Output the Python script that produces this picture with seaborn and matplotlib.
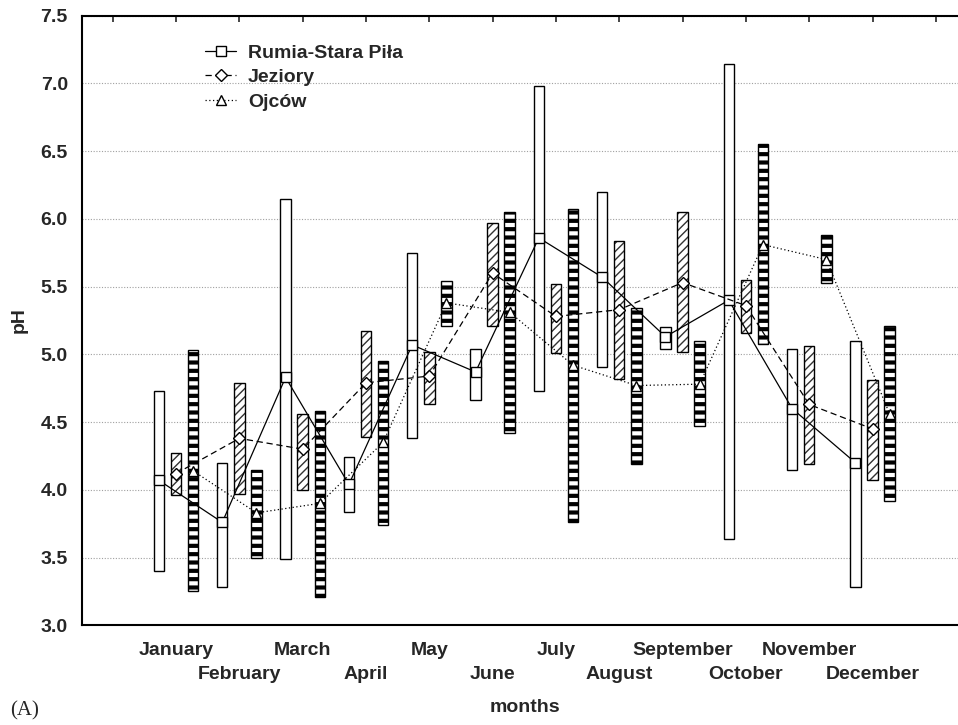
import matplotlib
matplotlib.use("Agg")
import matplotlib.pyplot as plt
import matplotlib as mpl
import numpy as np
import pandas as pd
import seaborn as sns

# ---------------- data ----------------
months = ["January", "February", "March", "April", "May", "June",
          "July", "August", "September", "October", "November", "December"]
series_names = ["Rumia-Stara Piła", "Jeziory", "Ojców"]

rumia_mean = [4.07, 3.76, 4.83, 4.04, 5.07, 4.87, 5.86, 5.57, 5.13, 5.40, 4.60, 4.20]
rumia_low = [3.40, 3.28, 3.49, 3.84, 4.38, 4.66, 4.73, 4.91, 5.04, 3.64, 4.15, 3.28]
rumia_high = [4.73, 4.20, 6.15, 4.24, 5.75, 5.04, 6.98, 6.20, 5.20, 7.14, 5.04, 5.10]

jez_mean = [4.12, 4.38, 4.30, 4.79, 4.84, 5.60, 5.28, 5.33, 5.53, 5.36, 4.63, 4.45]
jez_low = [3.96, 3.97, 4.00, 4.39, 4.63, 5.21, 5.01, 4.82, 5.02, 5.16, 4.19, 4.07]
jez_high = [4.27, 4.79, 4.56, 5.17, 5.02, 5.97, 5.52, 5.84, 6.05, 5.55, 5.06, 4.81]

ojc_mean = [4.14, 3.83, 3.90, 4.35, 5.38, 5.31, 4.92, 4.77, 4.78, 5.81, 5.70, 4.56]
ojc_low = [3.25, 3.50, 3.21, 3.74, 5.21, 4.42, 3.76, 4.19, 4.47, 5.08, 5.53, 3.92]
ojc_high = [5.03, 4.15, 4.58, 4.95, 5.54, 6.05, 6.07, 5.34, 5.10, 6.55, 5.88, 5.21]

y_ticks = [3.0, 3.5, 4.0, 4.5, 5.0, 5.5, 6.0, 6.5, 7.0, 7.5]

# ---------------- styling ----------------
sns.set_style("white")
plt.rcParams["font.family"] = ["Liberation Sans", "DejaVu Sans"]
plt.rcParams["font.weight"] = "bold"

offsets = {"Rumia-Stara Piła": -0.27, "Jeziory": 0.0, "Ojców": 0.27}
bar_w = 0.165

rows = []
for name, m, lo, hi in [("Rumia-Stara Piła", rumia_mean, rumia_low, rumia_high),
                        ("Jeziory", jez_mean, jez_low, jez_high),
                        ("Ojców", ojc_mean, ojc_low, ojc_high)]:
    for i in range(len(months)):
        rows.append({"series": name, "month": months[i], "idx": i,
                     "x": i + offsets[name], "mean": m[i], "low": lo[i], "high": hi[i]})
df = pd.DataFrame(rows)

fig = plt.figure(figsize=(9.58, 7.25), dpi=100)
ax = fig.add_axes([81.7 / 958, 99.7 / 725, 1 - 81.7 / 958, (625.3 - 15.7) / 725])

# range bars
r = df[df.series == "Rumia-Stara Piła"]
ax.bar(r.x, r.high - r.low, bottom=r.low, width=bar_w, facecolor="white",
       edgecolor="black", linewidth=1.0, zorder=2)

j = df[df.series == "Jeziory"]
with mpl.rc_context({"hatch.linewidth": 1.0}):
    ax.bar(j.x, j.high - j.low, bottom=j.low, width=bar_w, facecolor="white",
           edgecolor="#333333", linewidth=0, hatch="////", zorder=2)
ax.bar(j.x, j.high - j.low, bottom=j.low, width=bar_w, fill=False,
       edgecolor="black", linewidth=1.0, zorder=2.1)

o = df[df.series == "Ojców"]
with mpl.rc_context({"hatch.linewidth": 3.0}):
    ax.bar(o.x, o.high - o.low, bottom=o.low, width=bar_w, facecolor="white",
           edgecolor="black", linewidth=0, hatch="--", zorder=2)
ax.bar(o.x, o.high - o.low, bottom=o.low, width=bar_w, fill=False,
       edgecolor="black", linewidth=1.0, zorder=2.1)

# mean lines with markers
sns.lineplot(data=df, x="x", y="mean", hue="series", style="series",
             hue_order=series_names, style_order=series_names,
             palette={n: "black" for n in series_names},
             markers={"Rumia-Stara Piła": "s", "Jeziory": "D", "Ojców": "^"},
             dashes={"Rumia-Stara Piła": "", "Jeziory": (5, 3), "Ojców": (1, 2)},
             estimator=None, sort=True, linewidth=0.9, markersize=7.5,
             markerfacecolor="white", markeredgecolor="black", markeredgewidth=1.0,
             legend=False, ax=ax, zorder=4)
lines = ax.get_lines()
for ln, nm in zip(lines, series_names):
    ln.set_label(nm)
    ln.set_zorder(4)
    if nm == "Jeziory":
        ln.set_markersize(6)

# axes
ax.set_xlim(-1.49, 12.35)
ax.set_ylim(3.0, 7.5)
ax.set_yticks(y_ticks)
ax.set_yticklabels([f"{v:.1f}" for v in y_ticks], fontsize=14, fontweight="bold")
ax.set_xticks(range(-1, 13))
labels = [""] + months + [""]
ax.set_xticklabels(labels, fontsize=14, fontweight="bold")
ax.tick_params(axis="x", direction="in", top=True, length=4, width=1.2, pad=12)
ax.tick_params(axis="y", direction="in", length=4, width=1.2, pad=10)
# alternate the month labels on two rows
for k, tick in enumerate(ax.xaxis.get_major_ticks()):
    i = k - 1
    if 0 <= i < len(months) and i % 2 == 1:
        tick.set_pad(29)
ax.yaxis.grid(True, linestyle=(0, (1, 1.5)), color="#a0a0a0", linewidth=0.8)
ax.xaxis.grid(False)
ax.set_axisbelow(True)
for s in ["left", "bottom", "top"]:
    ax.spines[s].set_color("black")
    ax.spines[s].set_linewidth(1.5)
ax.spines["right"].set_visible(False)

ax.set_xlabel("months", fontsize=14, fontweight="bold")
ax.set_ylabel("pH", fontsize=14, fontweight="bold")
ax.xaxis.set_label_coords(0.506, -0.121)
ax.yaxis.set_label_coords(-0.0613, 0.5)

leg = ax.legend(handles=lines, labels=series_names, loc="upper left",
                bbox_to_anchor=(205 / 958, 1 - 44 / 725), bbox_transform=fig.transFigure,
                frameon=False, borderpad=0, borderaxespad=0, handlelength=1.6,
                handletextpad=0.6, labelspacing=0.36,
                prop={"family": ["Liberation Sans"], "weight": "bold", "size": 14})

fig.text(10 / 958, 1 - 711 / 725, "(A)", fontsize=15, fontweight="normal",
         family=["Liberation Serif", "DejaVu Serif"], va="center", ha="left")

fig.savefig("out.png", dpi=100)
